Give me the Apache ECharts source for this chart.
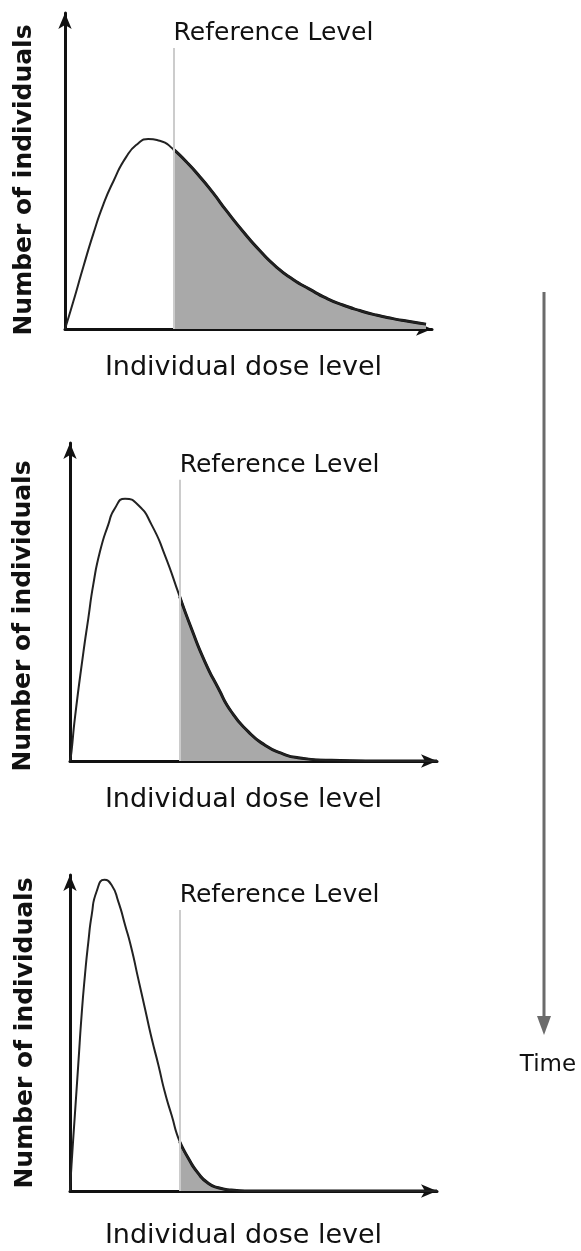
<!DOCTYPE html>
<html>
<head>
<meta charset="utf-8">
<style>
  html, body { margin: 0; padding: 0; background: #ffffff; }
  #chart { width: 581px; height: 1251px; }
</style>
<script src="https://cdn.jsdelivr.net/npm/echarts@6/dist/echarts.min.js"></script>
</head>
<body>
<div id="chart"></div>
<script>
// ---- Data (arbitrary units: dose 0..98, count 0..97.5) ----
const dose1 = [0, 2.2, 4.9, 7.6, 10.2, 12.9, 16.4, 19.6, 22.2, 25.3, 29, 32.4, 36, 39.6, 43.1, 47.6, 52, 56.4, 60.9, 65.3, 69.8, 74.2, 78.7, 83.1, 87.6, 92, 96.4];
const count1 = [0, 8.4, 19.2, 29.5, 38.3, 45.5, 53.2, 57.3, 58.6, 58.1, 55.4, 51.6, 47, 41.9, 36.5, 30, 24.2, 19.2, 15.3, 12.3, 9.5, 7.4, 5.7, 4.3, 3.2, 2.3, 1.5];

const dose2 = [0, 0.4, 1.3, 3.6, 4.9, 6.2, 8, 10.2, 12, 14.7, 18.2, 21.8, 25.3, 29.3, 32.4, 36, 39.6, 43.1, 47.6, 52, 56.4, 60.9, 69.8, 85, 98];
const count2 = [0, 2.9, 13.1, 33.5, 43.8, 54, 64.2, 72.4, 77.5, 80.4, 78.5, 72.4, 63.2, 50.4, 40.7, 30.5, 22.3, 15.1, 9, 4.9, 2.4, 1, 0.2, 0, 0];

const dose3 = [0, 0.4, 1.3, 2.2, 3.1, 4, 4.9, 5.8, 7.1, 9.2, 11.1, 12.9, 14.7, 16.4, 18.2, 20, 21.8, 23.6, 25.3, 27.1, 29.3, 31.6, 34.2, 36.9, 39.6, 43.1, 47.6, 98];
const count3 = [0, 8, 23.5, 38.9, 54.3, 66.7, 76.9, 85.2, 92.4, 96, 94.4, 89.3, 82.1, 74.9, 65.6, 56.4, 47.1, 38.9, 30.6, 23.5, 15.2, 10.1, 5.5, 2.4, 1, 0.3, 0, 0];

const referenceLevels = [29, 29.3, 29.3];

const xTitle = 'Individual dose level';
const yTitle = 'Number of individuals';
const refTitle = 'Reference Level';
const timeTitle = 'Time';

// ---- Layout ----
const FONT = "'DejaVu Sans', sans-serif";
const panels = [
  { dose: dose1, count: count1, grid: { left: 65, top: 13, width: 367, height: 316 }, refTop: 86.7,
    xGap: 25, xPad: [0, 10, 0, 0], yGap: 28, yPad: [0, 18, 0, 0] },
  { dose: dose2, count: count2, grid: { left: 70, top: 443, width: 367, height: 318 }, refTop: 86.2,
    xGap: 25, xPad: [0, 20, 0, 0], yGap: 34, yPad: [0, 28, 0, 0] },
  { dose: dose3, count: count3, grid: { left: 70, top: 875, width: 367, height: 316 }, refTop: 86.7,
    xGap: 31, xPad: [0, 20, 0, 0], yGap: 32, yPad: [0, 0, 0, 0] }
];

const grids = [], xAxes = [], yAxes = [], series = [];
panels.forEach(function (p, i) {
  grids.push(p.grid);
  const axisLine = { show: true, onZero: false, symbol: ['none', 'arrow'], symbolSize: [10, 16],
    lineStyle: { color: '#111', width: 3 } };
  xAxes.push({
    type: 'value', gridIndex: i, min: 0, max: 98,
    axisLine: axisLine, axisTick: { show: false }, axisLabel: { show: false }, splitLine: { show: false },
    name: xTitle, nameLocation: 'middle', nameGap: p.xGap,
    nameTextStyle: { fontFamily: FONT, fontSize: 27, color: '#111', padding: p.xPad }
  });
  yAxes.push({
    type: 'value', gridIndex: i, min: 0, max: 97.5,
    axisLine: axisLine, axisTick: { show: false }, axisLabel: { show: false }, splitLine: { show: false },
    name: yTitle, nameLocation: 'middle', nameGap: p.yGap,
    nameTextStyle: { fontFamily: FONT, fontSize: 25, fontWeight: 'bold', color: '#111', padding: p.yPad }
  });
  const ref = referenceLevels[i];
  const pts = p.dose.map(function (d, k) { return [d, p.count[k]]; });
  const shaded = pts.filter(function (pt) { return pt[0] >= ref; });
  // reference line (drawn under the shading)
  series.push({
    type: 'line', xAxisIndex: i, yAxisIndex: i, data: [], silent: true, z: 1,
    markLine: {
      symbol: 'none', silent: true, animation: false,
      lineStyle: { color: '#cccccc', width: 2, type: 'solid' },
      label: { show: true, position: 'end', align: 'left', distance: 2, formatter: refTitle,
        fontFamily: FONT, fontSize: 25, color: '#111' },
      data: [[{ coord: [ref, 0] }, { coord: [ref, p.refTop] }]]
    }
  });
  series.push({
    type: 'line', xAxisIndex: i, yAxisIndex: i, data: shaded, smooth: 0.6,
    showSymbol: false, silent: true, z: 2,
    lineStyle: { color: '#111', width: 3 },
    areaStyle: { color: '#a9a9a9', opacity: 1 }
  });
  series.push({
    type: 'line', xAxisIndex: i, yAxisIndex: i, data: pts, smooth: 0.6,
    showSymbol: false, silent: true, z: 3,
    lineStyle: { color: '#222', width: 2 }
  });
});

const chart = echarts.init(document.getElementById('chart'), null, { renderer: 'canvas' });
chart.setOption({
  backgroundColor: '#ffffff',
  animation: false,
  grid: grids,
  xAxis: xAxes,
  yAxis: yAxes,
  series: series,
  graphic: [
    { type: 'line', shape: { x1: 544, y1: 292, x2: 544, y2: 1022 }, style: { stroke: '#6b6b6b', lineWidth: 3 } },
    { type: 'polygon', shape: { points: [[537, 1016], [551, 1016], [544, 1035]] }, style: { fill: '#6b6b6b' } },
    { type: 'text', x: 548, y: 1065, style: { text: timeTitle, font: "23px 'DejaVu Sans', sans-serif",
      fill: '#111', textAlign: 'center', textVerticalAlign: 'middle' } }
  ]
});
</script>
</body>
</html>
